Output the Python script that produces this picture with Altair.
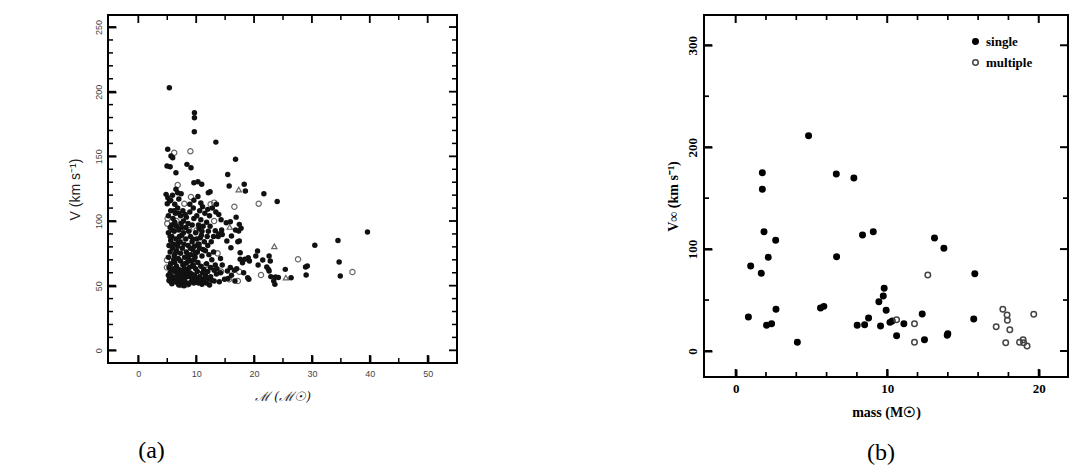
import altair as alt
import pandas as pd

# ---------------- Panel (a): V vs stellar mass ----------------
# filled dots, grouped by velocity band (M in Msun, V in km/s)
a_fill_band50 = [(5.3,54),(5.6,53),(6.0,55),(6.4,53),(6.8,52),(7.2,54),(7.6,51),(7.9,50),(8.3,52),
                 (8.7,51),(9.1,53),(9.6,52),(10.0,54),(10.4,52),(10.9,55),(11.3,53),(11.8,52),(12.3,50.5),
                 (12.7,54),(13.1,53.6),(14.0,53),(14.9,54.9),(15.5,55.5),(16.7,53.6),(18.9,56.2),(19.1,54.9),
                 (23.4,53.6),(23.6,51),(26.4,56.2),(23.7,56.7),(22.9,57),(24.2,56.4),(5.8,51.5),(7.0,50.5),
                 (8.0,53.5),(9.4,55),(11.0,51)]
a_fill_band56 = [(5.2,58),(5.5,60),(5.9,57),(6.3,61),(6.7,58),(7.1,60),(7.5,57),(7.9,59),(8.4,61),(8.8,57),
                 (9.2,59),(9.7,58),(10.2,61),(10.6,57),(11.1,60),(11.6,58),(12.0,61),(12.5,57),(13.1,61.9),
                 (13.5,59),(14.2,60),(15.4,61.3),(16.1,58),(16.6,61.9),(18.2,60),(22.6,61.3),(22.5,62.6),
                 (25.4,62.6),(29.0,58.2),(34.9,57.5)]
a_fill_band62 = [(5.3,64),(5.6,67),(6.0,63),(6.3,68),(6.6,65),(7.0,62.5),(7.3,69),(7.7,66),(8.0,63),(8.4,68),
                 (8.8,64),(9.1,69),(9.5,66),(9.9,63),(10.3,68),(10.8,65),(11.3,62.5),(11.8,67),(12.5,64),
                 (13.6,63),(14.5,66),(15.9,64),(17.0,63),(20.7,66),(22.2,64.4),(28.9,64.4),(29.2,65.2),
                 (34.7,68.3),(18.0,67.7),(21.5,69.8),(22.8,69),(19.2,69)]
a_fill_band70 = [(5.2,72),(5.5,76),(5.9,79),(6.2,73),(6.6,77),(6.9,71),(7.3,75),(7.6,79),(8.0,72),(8.3,76),
                 (8.7,70.5),(9.1,74),(9.4,78),(9.8,72),(10.2,76),(10.6,79),(11.0,73),(11.6,77),(12.2,74),
                 (13.0,76),(14.2,71),(16.0,79.4),(17.6,75.5),(17.6,70.4),(18.4,70.4),(19.0,71.6),(20.6,76.8),
                 (20.3,72.9),(22.6,72.9),(30.5,81.2)]
a_fill_band80 = [(5.3,81),(5.6,85),(5.8,88),(6.1,82),(6.5,86),(6.8,80.5),(7.2,84),(7.5,89),(7.9,82),(8.2,86),
                 (8.6,81),(9.0,88),(9.3,84),(9.7,80.5),(10.1,86),(10.5,82),(10.9,89),(11.4,84),(12.0,81),
                 (13.0,88),(13.8,88),(15.3,84.5),(17.2,84),(16.1,88.4),(17.45,84.5),(34.5,85)]
a_fill_band90 = [(5.2,91),(5.5,95),(5.8,97),(6.2,92),(6.6,96),(7.0,93),(7.4,98),(7.8,91),(8.2,95),(8.7,92),
                 (9.3,97),(9.9,91),(10.5,94),(11.2,96),(12.1,92),(13.3,92.5),(13.9,90),(14.4,93),(14.5,89.5),
                 (15.2,98.7),(15.9,99.5),(16.8,93),(17.75,94.4),(17.35,92.3),(17.45,97.4),(39.6,91.5)]
a_fill_band100 = [(5.2,104),(5.6,108),(6.0,102),(6.4,106),(6.8,110),(7.3,104),(7.7,108),(8.3,103),(8.9,107),
                  (9.5,110),(10.1,104),(10.6,108),(11.1,111),(11.5,106),(12.0,109),(12.3,104),(12.8,110),
                  (13.4,107),(13.9,105),(14.3,101),(16.9,103)]
a_fill_band112 = [(5.0,113.4),(5.4,115.5),(5.1,118),(4.8,120.6),(5.6,116),(5.9,120),(6.3,113),(6.8,121.9),
                  (6.5,124.5),(7.0,117),(7.4,121),(8.9,113),(9.6,116),(10.3,119),(10.8,114),(12.1,121.9),
                  (12.4,122.7),(13.5,113),(24.0,115),(21.7,121.1),(18.5,123.2)]
a_fill_dense = [(5.4,56),(5.7,62),(6.1,70),(6.4,75),(6.9,83),(7.1,88),(7.5,95),(7.8,100),(8.1,105),(8.5,58),
                (8.9,60),(9.3,65),(9.6,70),(9.9,75),(10.3,82),(10.7,87),(11.0,92),(5.5,88),(5.9,93),(6.3,99),
                (7.6,62),(8.0,67),(8.6,74),(9.0,79),(9.4,86),(10.4,97),(10.8,101),(6.7,55),(7.4,56),(8.2,56.5),
                (9.8,55.5),(10.6,54),(11.5,56),(12.1,55.5),(6.2,108),(7.0,106),(8.6,98),(9.6,102),(11.8,99),
                (12.4,96),(11.9,88),(12.6,84),(11.2,78),(12.7,70),(13.3,66)]
a_fill_top = [(5.36,203),(9.7,183.8),(9.7,179.9),(9.68,169),(13.4,161),(5.08,155.4),(5.65,150.3),(5.94,149),
              (4.96,142.5),(5.5,142),(6.5,137.4),(8.4,143.8),(9.1,141.2),(9.6,129.6),(10.3,130.4),(10.95,128.4),
              (15.45,136),(15.7,127),(16.8,147.7),(18.3,128.4)]
# open circles and open triangles
a_open = [(9.0,154),(6.2,152.8),(6.8,127.8),(9.1,118.6),(7.95,113.4),(16.6,111),(20.8,113.4),(27.6,70.4),
          (37.0,60.6),(21.2,58.2),(17.2,53.6),(17.45,60.8),(4.95,69.8),(4.95,64),(5.07,102),(13.1,100),
          (10.1,92.8),(13.7,75),(15.7,55),(7.4,50.5),(8.5,51),(12.5,113),(6.6,100),(11.7,66),(8.8,93),
          (14.3,61),(5.0,98),(7.3,86),(10.0,58),(13.1,114.2)]
a_tri = [(17.35,124.3),(23.5,80.4),(25.5,56.2),(15.8,95.4)]

a_x_major = [0, 10, 20, 30, 40, 50]
a_x_minor = [5, 15, 25, 35, 45]
a_y_major = [0, 50, 100, 150, 200, 250]
a_y_minor = [10, 20, 30, 40, 60, 70, 80, 90, 110, 120, 130, 140, 160, 170, 180, 190, 210, 220, 230, 240]

# ---------------- Panel (b): V_inf vs mass ----------------
b_single = [(0.84,33.4),(0.99,83.4),(1.69,76.2),(1.76,175),(1.76,158.7),(1.87,117),(2.04,25.2),(2.15,92),
            (2.37,26.8),(2.64,108.6),(2.66,40.9),(4.07,8.5),(4.81,211.3),(5.6,42.2),(5.82,43.8),(6.64,173.7),
            (6.66,92.6),(7.8,169.8),(8.02,25.2),(8.37,113.8),(8.51,25.8),(8.77,32.4),(9.08,117),(9.45,48.4),
            (9.56,24.5),(9.74,54),(9.8,61.5),(9.93,39.9),(10.18,28.1),(10.33,29.4),(10.62,15),(11.1,26.8),
            (12.31,36.3),(12.46,11.1),(13.12,110.9),(13.74,100.8),(13.96,15.4),(14.0,17),(15.78,75.9),(15.71,31.4)]
b_multiple = [(12.68,74.6),(11.8,26.8),(11.8,8.5),(10.62,30.7),(17.19,23.9),(17.63,40.9),(17.91,35.3),
              (17.93,30.1),(18.09,20.9),(17.82,8.2),(18.73,8.5),(18.97,11.1),(19.0,8.2),(19.23,4.9),(19.67,36)]
b_types = ["single", "multiple"]

b_x_major = [0, 10, 20]
b_x_minor = [2, 4, 6, 8, 12, 14, 16, 18]
b_y_major = [0, 100, 200, 300]
b_y_minor = [50, 150, 250]

# ---------------- tables ----------------
a_fill = (a_fill_band50 + a_fill_band56 + a_fill_band62 + a_fill_band70 + a_fill_band80 +
          a_fill_band90 + a_fill_band100 + a_fill_band112 + a_fill_dense + a_fill_top)
df_a_fill = pd.DataFrame(a_fill, columns=["m", "v"])
df_a_open = pd.DataFrame(a_open, columns=["m", "v"])
df_a_tri = pd.DataFrame(a_tri, columns=["m", "v"])
df_b = pd.concat([
    pd.DataFrame(b_single, columns=["m", "v"]).assign(type=b_types[0]),
    pd.DataFrame(b_multiple, columns=["m", "v"]).assign(type=b_types[1]),
], ignore_index=True)


def xticks(values, scale_x, axis, h, length, sw):
    d = pd.DataFrame({"m": values})
    enc = alt.X("m:Q", scale=scale_x, axis=axis)
    bottom = alt.Chart(d).mark_tick(color="black", thickness=sw, size=length, opacity=1).encode(
        x=enc, y=alt.value(h - length / 2))
    top = alt.Chart(d).mark_tick(color="black", thickness=sw, size=length, opacity=1).encode(
        x=enc, y=alt.value(length / 2))
    return [bottom, top]


def yticks(values, scale_y, axis, w, length, sw):
    d = pd.DataFrame({"v": values})
    enc = alt.Y("v:Q", scale=scale_y, axis=axis)
    left = alt.Chart(d).mark_tick(color="black", thickness=sw, size=length, opacity=1).encode(
        y=enc, x=alt.value(length / 2))
    right = alt.Chart(d).mark_tick(color="black", thickness=sw, size=length, opacity=1).encode(
        y=enc, x=alt.value(w - length / 2))
    return [left, right]


# ---------------- panel (a) ----------------
W_A, H_A = 349, 348
xa = alt.Scale(domain=[-5.24, 55.07], nice=False, zero=False)
ya = alt.Scale(domain=[-9.8, 259.3], nice=False, zero=False)
# axis ticks point inward: the axis line is pulled 8px into the plot and its ticks reach the frame
axis_xa = alt.Axis(values=a_x_major, ticks=True, tickSize=8, tickWidth=1.8, tickColor="black", offset=-8,
                   domain=False, grid=False, format="d",
                   labelFont="Liberation Sans", labelFontSize=9, labelColor="#444", labelPadding=6,
                   title="ℳ (ℳ☉)", titleFont="DejaVu Serif", titleFontStyle="italic",
                   titleFontWeight="normal", titleFontSize=13, titleColor="#222", titlePadding=12)
axis_ya = alt.Axis(values=a_y_major, ticks=True, tickSize=8, tickWidth=1.8, tickColor="black", offset=-8,
                   domain=False, grid=False, format="d",
                   labelFont="Liberation Sans", labelFontSize=9, labelColor="#444", labelPadding=5,
                   labelAngle=270, labelAlign="center", labelBaseline="bottom",
                   title="V (km s⁻¹)", titleFont="Liberation Sans", titleFontWeight="normal",
                   titleFontSize=14, titleColor="#222", titlePadding=12)

XA = alt.X("m:Q", scale=xa, axis=axis_xa)
YA = alt.Y("v:Q", scale=ya, axis=axis_ya)

a_layers = []
a_layers.append(alt.Chart(df_a_open).mark_point(shape="circle", size=28, color="#666", strokeWidth=1.2,
                                                 opacity=1).encode(x=XA, y=YA))
a_layers.append(alt.Chart(df_a_tri).mark_point(shape="triangle-up", size=28, color="#666", strokeWidth=1.2,
                                                opacity=1).encode(x=XA, y=YA))
a_layers.append(alt.Chart(df_a_fill).mark_circle(size=30, color="#111", opacity=1).encode(x=XA, y=YA))
a_layers += xticks(a_x_major, xa, axis_xa, H_A, 8, 1.8)
a_layers += xticks(a_x_minor, xa, axis_xa, H_A, 5, 1.5)
a_layers += yticks(a_y_major, ya, axis_ya, W_A, 8, 1.8)
a_layers += yticks(a_y_minor, ya, axis_ya, W_A, 5, 1.5)

panel_a = alt.layer(*a_layers).properties(
    width=W_A, height=H_A,
    title=alt.TitleParams("(a)", orient="bottom", frame="group", anchor="middle", dx=-131, offset=36,
                          font="Liberation Serif", fontSize=24, fontWeight="normal", color="black"))

# ---------------- panel (b) ----------------
W_B, H_B = 364, 362
xb = alt.Scale(domain=[-2.09, 21.93], nice=False, zero=False)
yb = alt.Scale(domain=[-25.5, 329.7], nice=False, zero=False)
axis_xb = alt.Axis(values=b_x_major, ticks=True, tickSize=8, tickWidth=2, tickColor="black", offset=-8,
                   domain=False, grid=False, format="d",
                   labelFont="Liberation Serif", labelFontWeight="bold", labelFontSize=13,
                   labelColor="black", labelPadding=5,
                   title="mass (M☉)", titleFont="Liberation Serif", titleFontWeight="bold",
                   titleFontSize=14, titleColor="black", titlePadding=10)
axis_yb = alt.Axis(values=b_y_major, ticks=True, tickSize=8, tickWidth=2, tickColor="black", offset=-8,
                   domain=False, grid=False, format="d",
                   labelFont="Liberation Serif", labelFontWeight="bold", labelFontSize=13,
                   labelColor="black", labelPadding=5,
                   labelAngle=270, labelAlign="center", labelBaseline="bottom",
                   title="V∞ (km s⁻¹)", titleFont="Liberation Serif", titleFontWeight="bold",
                   titleFontSize=14, titleColor="black", titlePadding=6)
XB = alt.X("m:Q", scale=xb, axis=axis_xb)
YB = alt.Y("v:Q", scale=yb, axis=axis_yb)

# legend sits at the top right of panel (b); coordinates are relative to the concat origin
legend_b = alt.Legend(title=None, orient="none", legendX=861, legendY=20, padding=0,
                      symbolType="circle", symbolSize=30, symbolStrokeWidth=1.5,
                      labelFont="Liberation Serif", labelFontWeight="bold", labelFontSize=13,
                      labelColor="black", labelOffset=4, rowPadding=7)

b_layers = []
b_layers.append(
    alt.Chart(df_b).mark_point(shape="circle", size=30, strokeWidth=1.5, opacity=1, fillOpacity=1).encode(
        x=XB, y=YB,
        fill=alt.Fill("type:N", scale=alt.Scale(domain=b_types, range=["black", "transparent"]),
                      legend=legend_b),
        stroke=alt.Stroke("type:N", scale=alt.Scale(domain=b_types, range=["black", "#444"]),
                          legend=legend_b),
    ))
b_layers += xticks(b_x_major, xb, axis_xb, H_B, 8, 2)
b_layers += xticks(b_x_minor, xb, axis_xb, H_B, 5, 1.7)
b_layers += yticks(b_y_major, yb, axis_yb, W_B, 8, 2)
b_layers += yticks(b_y_minor, yb, axis_yb, W_B, 5, 1.7)

panel_b = alt.layer(*b_layers).properties(
    width=W_B, height=H_B,
    title=alt.TitleParams("(b)", orient="bottom", frame="group", anchor="middle", dx=-5, offset=22,
                          font="Liberation Serif", fontSize=24, fontWeight="normal", color="black"))

chart = alt.hconcat(panel_a, panel_b, spacing=247, bounds="flush").properties(
    padding={"left": 67, "top": 14, "right": 0, "bottom": 0},
    background="white",
).configure_view(stroke="black", strokeWidth=2)

chart.save("out.html", embed_options={"renderer": "svg", "actions": False})
